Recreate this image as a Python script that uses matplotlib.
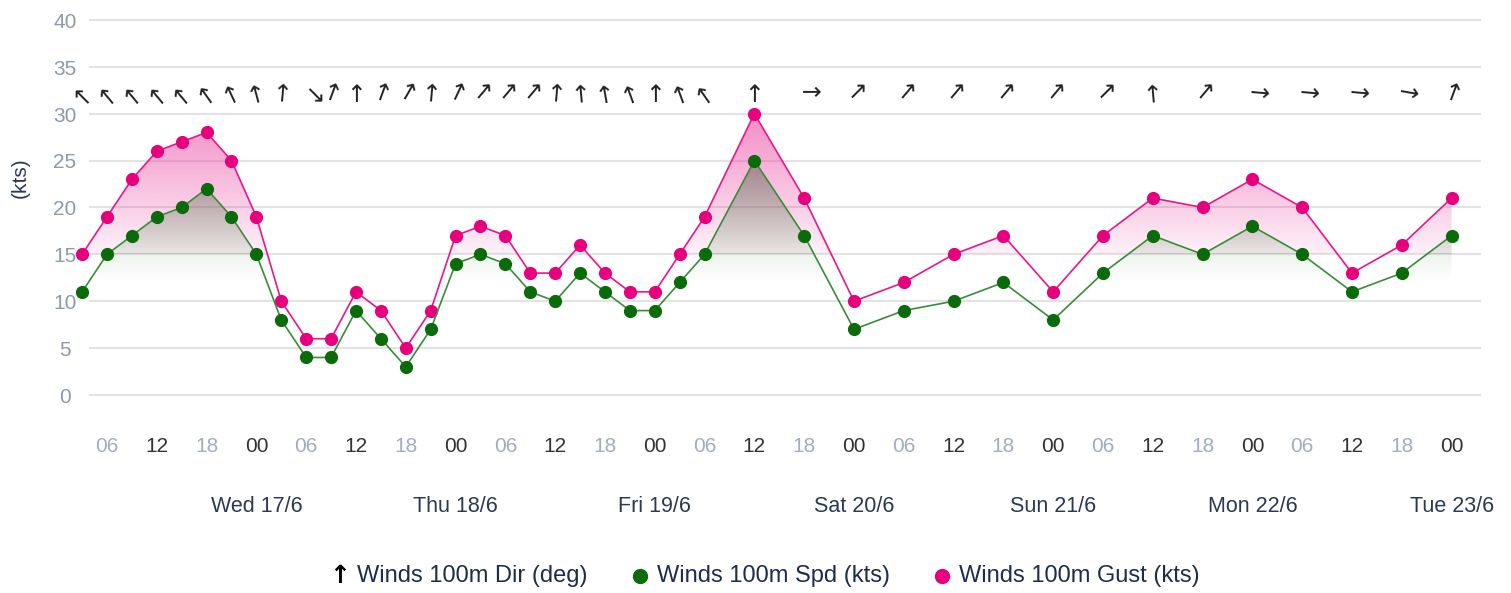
import matplotlib.pyplot as plt
import numpy as np
from matplotlib.patches import Polygon
from matplotlib.lines import Line2D
from matplotlib.transforms import blended_transform_factory

plt.rcParams['font.family'] = ['Liberation Sans', 'DejaVu Sans']

# hours since Tue 16/6 00:00
hours = [3, 6, 9, 12, 15, 18, 21, 24, 27, 30, 33, 36, 39, 42, 45, 48, 51, 54, 57,
         60, 63, 66, 69, 72, 75, 78,
         84, 90, 96, 102, 108, 114, 120, 126, 132, 138, 144, 150, 156, 162, 168]
gust = [15, 19, 23, 26, 27, 28, 25, 19, 10, 6, 6, 11, 9, 5, 9, 17, 18, 17, 13,
        13, 16, 13, 11, 11, 15, 19,
        30, 21, 10, 12, 15, 17, 11, 17, 21, 20, 23, 20, 13, 16, 21]
speed = [11, 15, 17, 19, 20, 22, 19, 15, 8, 4, 4, 9, 6, 3, 7, 14, 15, 14, 11,
         10, 13, 11, 9, 9, 12, 15,
         25, 17, 7, 9, 10, 12, 8, 13, 17, 15, 18, 15, 11, 13, 17]
# direction the arrow points to (deg, clockwise from up)
direction = [315, 320, 320, 320, 320, 325, 335, 345, 5, 135, 20, 0, 20, 30, 5, 25,
             40, 40, 40, 5, 355, 350, 340, 0, 340, 325,
             0, 90, 45, 40, 40, 40, 40, 45, 355, 40, 95, 95, 95, 100, 20]

tick_hours = [6, 12, 18, 24, 30, 36, 42, 48, 54, 60, 66, 72, 78, 84, 90, 96, 102,
              108, 114, 120, 126, 132, 138, 144, 150, 156, 162, 168]
tick_labels = ['06', '12', '18', '00'] * 7
day_hours = [24, 48, 72, 96, 120, 144, 168]
day_labels = ['Wed 17/6', 'Thu 18/6', 'Fri 19/6', 'Sat 20/6', 'Sun 21/6',
              'Mon 22/6', 'Tue 23/6']
y_ticks = [0, 5, 10, 15, 20, 25, 30, 35, 40]

W, H = 1511, 593
fig = plt.figure(figsize=(W / 100, H / 100), dpi=100)
ax = fig.add_axes([75 / W, (H - 420) / H, (1490 - 75) / W, (420 - 15) / H])
ax.set_xlim(2.145, 172.63)
ax.set_ylim(-2.67, 40.53)
ax.axis('off')

# grid
for v in y_ticks:
    ax.axhline(v, xmin=15 / 1415, xmax=1405 / 1415, color='#e3e3e3', lw=1.5, zorder=0)

ftrans = blended_transform_factory(fig.transFigure, ax.transData)
for v in y_ticks:
    ax.text(65 / W, v - 0.25, str(v), transform=ftrans, ha='center', va='center',
            fontsize=15, color='#8f99aa')

# gradient fills
x0, x1 = hours[0], hours[-1]


def grad_img(c_top, c_bot, a_top, a_bot, n=256):
    t = np.linspace(0, 1, n)[:, None]
    c_top = np.array(c_top) / 255
    c_bot = np.array(c_bot) / 255
    img = np.zeros((n, 1, 4))
    img[:, :, :3] = c_top[None, None, :] * (1 - t[..., None]) + c_bot[None, None, :] * t[..., None]
    img[:, :, 3] = a_top * (1 - t) + a_bot * t
    return img


gust_poly = Polygon([(x0, -5)] + list(zip(hours, gust)) + [(x1, -5)],
                    closed=True, fc='none', ec='none', transform=ax.transData)
speed_poly = Polygon([(x0, -5)] + list(zip(hours, speed)) + [(x1, -5)],
                     closed=True, fc='none', ec='none', transform=ax.transData)
ax.add_patch(gust_poly)
ax.add_patch(speed_poly)

im = ax.imshow(grad_img((230, 25, 140), (230, 25, 140), 0.5, 0.06),
               extent=[x0, x1, 15, max(gust)], aspect='auto', origin='upper',
               interpolation='bilinear', zorder=1)
im.set_clip_path(gust_poly)

im = ax.imshow(grad_img((100, 95, 85), (60, 130, 60), 0.55, 0.1),
               extent=[x0, x1, 15, max(speed)], aspect='auto', origin='upper',
               interpolation='bilinear', zorder=1.1)
im.set_clip_path(speed_poly)

im = ax.imshow(grad_img((60, 130, 60), (60, 130, 60), 0.1, 0.0),
               extent=[x0, x1, 12, 15], aspect='auto', origin='upper',
               interpolation='bilinear', zorder=1.1)
im.set_clip_path(speed_poly)

# lines
ax.plot(hours, gust, color='#e8178a', lw=1.2, marker='o', ms=8.5,
        mfc='#e6007e', mec='#e6007e', zorder=3)
ax.plot(hours, speed, color='#3a8c3a', lw=1.2, marker='o', ms=8.5,
        mfc='#0b6b0b', mec='#0b6b0b', zorder=4)

# direction arrows
for h, d in zip(hours, direction):
    ax.text(h, 32.0, '\u2191', rotation=-d, rotation_mode='anchor', ha='center',
            va='center', fontsize=17, color='#222222', family='DejaVu Sans', zorder=5)

# x labels
btrans = blended_transform_factory(ax.transData, fig.transFigure)
for h, lab in zip(tick_hours, tick_labels):
    col = '#a3adbd' if lab in ('06', '18') else '#333333'
    ax.text(h, 1 - 446 / H, lab, transform=btrans, ha='center', va='center',
            fontsize=15, color=col)
for h, lab in zip(day_hours, day_labels):
    ax.text(h, 1 - 507 / H, lab, transform=btrans, ha='center', va='center',
            fontsize=15.5, color='#2b3a52')

fig.text(20 / W, 1 - 178 / H, '(kts)', rotation=90, ha='center', va='center',
         fontsize=15, color='#2b3a52')

# legend
ly = 1 - 576 / H
fig.text(340 / W, ly, '\u2191', ha='center', va='center', fontsize=18,
         color='black', family='DejaVu Sans', weight='bold')
fig.text(357 / W, ly, 'Winds 100m Dir (deg)', ha='left', va='center', fontsize=17, color='#1e2d48')
fig.add_artist(Line2D([640 / W], [ly], marker='o', ms=10, color='#0b6b0b',
                      transform=fig.transFigure))
fig.text(657 / W, ly, 'Winds 100m Spd (kts)', ha='left', va='center', fontsize=17, color='#1e2d48')
fig.add_artist(Line2D([942 / W], [ly], marker='o', ms=10, color='#e6007e',
                      transform=fig.transFigure))
fig.text(959 / W, ly, 'Winds 100m Gust (kts)', ha='left', va='center', fontsize=17, color='#1e2d48')

fig.savefig('out.png', dpi=100)
